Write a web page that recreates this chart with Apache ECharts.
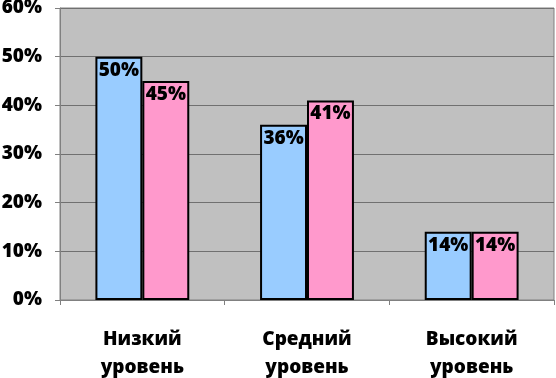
<!DOCTYPE html>
<html>
<head>
<meta charset="utf-8">
<script src="https://cdn.jsdelivr.net/npm/echarts@6/dist/echarts.min.js"></script>
<style>
  html, body { margin: 0; padding: 0; background: #fff; }
</style>
</head>
<body>
<div id="chart" style="width: 556px; height: 378px"></div>
<script>
// категории и значения (в процентах)
const categories = ['Низкий\nуровень', 'Средний\nуровень', 'Высокий\nуровень'];
const seriesNames = ['Ряд 1', 'Ряд 2'];
const blueValues = [50, 36, 14];
const pinkValues = [45, 41, 14];

const font = 'Open Sans';

const chart = echarts.init(document.getElementById('chart'));

function barSeries(name, data, color) {
  return {
    name: name,
    type: 'bar',
    data: data,
    barGap: '0%',
    barCategoryGap: '43%',
    itemStyle: {
      color: color,
      borderColor: '#000',
      borderWidth: 2,
    },
    label: {
      show: true,
      position: 'insideTop',
      distance: 4,
      formatter: '{c}%',
      color: '#000',
      fontFamily: font,
      fontWeight: 800,
      fontSize: 19,
    },
  };
}

const option = {
  animation: false,
  grid: {
    left: 60,
    right: 2,
    top: 8,
    bottom: 78,
    outerBoundsMode: 'none',
    show: true,
    backgroundColor: '#C0C0C0',
    borderColor: '#808080',
    borderWidth: 1,
  },
  xAxis: {
    type: 'category',
    data: categories,
    axisLine: { lineStyle: { color: '#808080' } },
    axisTick: { show: true, length: 5, lineStyle: { color: '#808080' } },
    axisLabel: {
      margin: 26,
      color: '#000',
      fontFamily: font,
      fontWeight: 800,
      fontSize: 19,
      lineHeight: 28,
    },
  },
  yAxis: {
    type: 'value',
    min: 0,
    max: 60,
    interval: 10,
    axisLine: { show: true, lineStyle: { color: '#808080' } },
    axisTick: { show: true, length: 5, lineStyle: { color: '#808080' } },
    axisLabel: {
      margin: 18,
      formatter: '{value}%',
      color: '#000',
      fontFamily: font,
      fontWeight: 800,
      fontSize: 19,
    },
    splitLine: { lineStyle: { color: '#707070', width: 1 } },
  },
  series: [
    barSeries(seriesNames[0], blueValues, '#99CCFF'),
    barSeries(seriesNames[1], pinkValues, '#FF99CC'),
  ],
};

chart.setOption(option);
</script>
</body>
</html>
